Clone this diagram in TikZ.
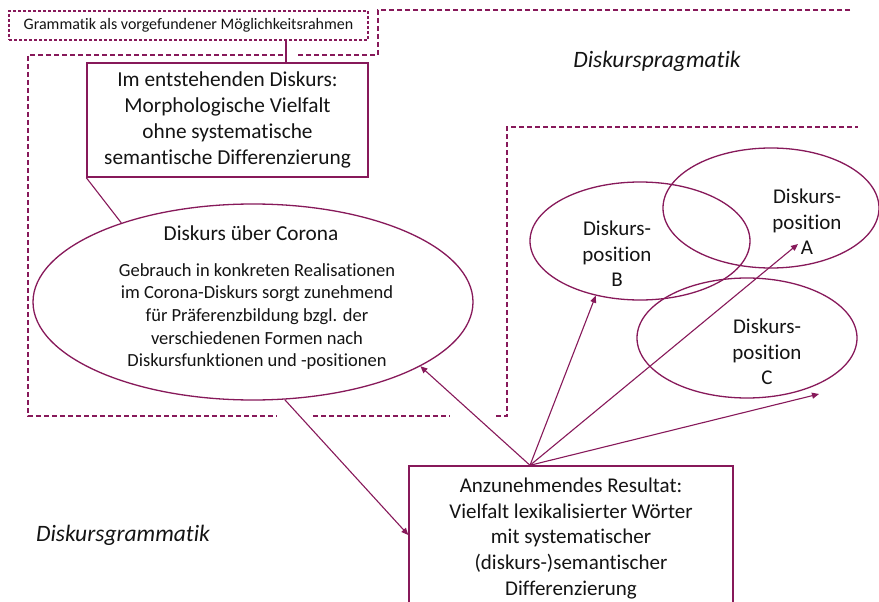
\documentclass[tikz,border=0pt]{standalone}
\usepackage{fontspec}
\setmainfont{Carlito}[Ligatures=NoCommon]
\usetikzlibrary{shapes.geometric,arrows.meta,calc}
\definecolor{plum}{RGB}{135,25,90}
\definecolor{inktext}{RGB}{20,20,20}
\begin{document}
\begin{tikzpicture}[x=1pt,y=-1pt,
  solidbox/.style={draw=plum,line width=1.4pt,rectangle,inner sep=0pt,align=center},
  ell/.style={draw=plum,line width=1.3pt,ellipse,inner sep=0pt},
  conn/.style={draw=plum,line width=1.1pt},
  arr/.style={conn,-{Triangle[length=7pt,width=6pt]}},
  dsh/.style={draw=plum,line width=1.3pt,dash pattern=on 5pt off 3pt},
  bigtxt/.style={text=inktext,align=center,font=\fontsize{21.3}{26}\selectfont},
  bodytxt/.style={text=inktext,align=center,font=\fontsize{18.5}{22.6}\selectfont},
  postxt/.style={text=inktext,align=center,font=\fontsize{21}{25.5}\selectfont},
  areatxt/.style={text=inktext,font=\fontsize{23.5}{28}\selectfont\itshape}]
\clip (0,0) rectangle (879,602);
\fill[white] (0,0) rectangle (879,602);

% dashed frames
\draw[dsh] (850,10) -- (378,10) -- (378,55) -- (298,55);
\draw[dsh] (283,55) -- (28,55) -- (28,416) -- (277,416);
\draw[dsh] (313,416) -- (450,416);
\draw[dsh] (496,416) -- (507,416) -- (507,127) -- (858,127);

% nodes
\node[draw=plum,line width=1.2pt,dash pattern=on 3pt off 2pt,minimum width=359pt,minimum height=29pt,inner sep=0pt,text=inktext,font=\fontsize{16}{19}\selectfont] (gram) at (188.5,25.5) {Grammatik als vorgefundener Möglichkeitsrahmen};

\node[solidbox,bigtxt,minimum width=281pt,minimum height=114pt] (emerg) at (227.5,120) {Im entstehenden Diskurs:\\Morphologische Vielfalt\\ohne systematische\\semantische Differenzierung};

\node[ell,minimum width=440pt,minimum height=196pt] (corona) at (253,302) {};
\node[bigtxt] (coronatitle) at (251,233) {Diskurs über Corona};
\node[bodytxt] (coronabody) at (257,316.5) {Gebrauch in konkreten Realisationen\\im Corona-Diskurs sorgt zunehmend\\für Präferenzbildung bzgl. der\\verschiedenen Formen nach\\Diskursfunktionen und -positionen};

\node[ell,minimum width=220pt,minimum height=118pt] (B) at (640,241) {};
\node[ell,minimum width=216pt,minimum height=120pt] (A) at (771,208) {};
\node[ell,minimum width=220pt,minimum height=120pt] (C) at (747,338) {};
\node[postxt] (Btxt) at (617,254) {Diskurs-\\position\\B};
\node[postxt] (Atxt) at (807,222) {Diskurs-\\position\\A};
\node[postxt] (Ctxt) at (767,352) {Diskurs-\\position\\C};

\node[solidbox,minimum width=324pt,minimum height=150pt] (res) at (571,541) {};
\node[bigtxt,font=\fontsize{21}{25.7}\selectfont] (restxt) at (571,538.5) {Anzunehmendes Resultat:\\Vielfalt lexikalisierter Wörter\\mit systematischer\\(diskurs-)semantischer\\Differenzierung};

\node[areatxt] (prag) at (657,61) {Diskurspragmatik};
\node[areatxt] (gramm) at (123,535) {Diskursgrammatik};

% connectors
\draw[conn] (286,0 |- gram.south) -- (286,0 |- emerg.north);
\draw[conn] (emerg.south west) -- (corona.149);
\draw[arr] (corona.288) -- ([yshift=6pt]res.west);
\coordinate (fan) at ([xshift=-41pt]res.north);
\coordinate (tipA) at ([xshift=27pt,yshift=-36pt]A.center);
\coordinate (tipC) at ([xshift=72pt,yshift=-56pt]C.center);
\draw[arr] (fan) -- (corona.339);
\draw[arr] (fan) -- (B.231);
\draw[arr] (fan) -- (tipA);
\draw[arr] (fan) -- (tipC);
\end{tikzpicture}
\end{document}
